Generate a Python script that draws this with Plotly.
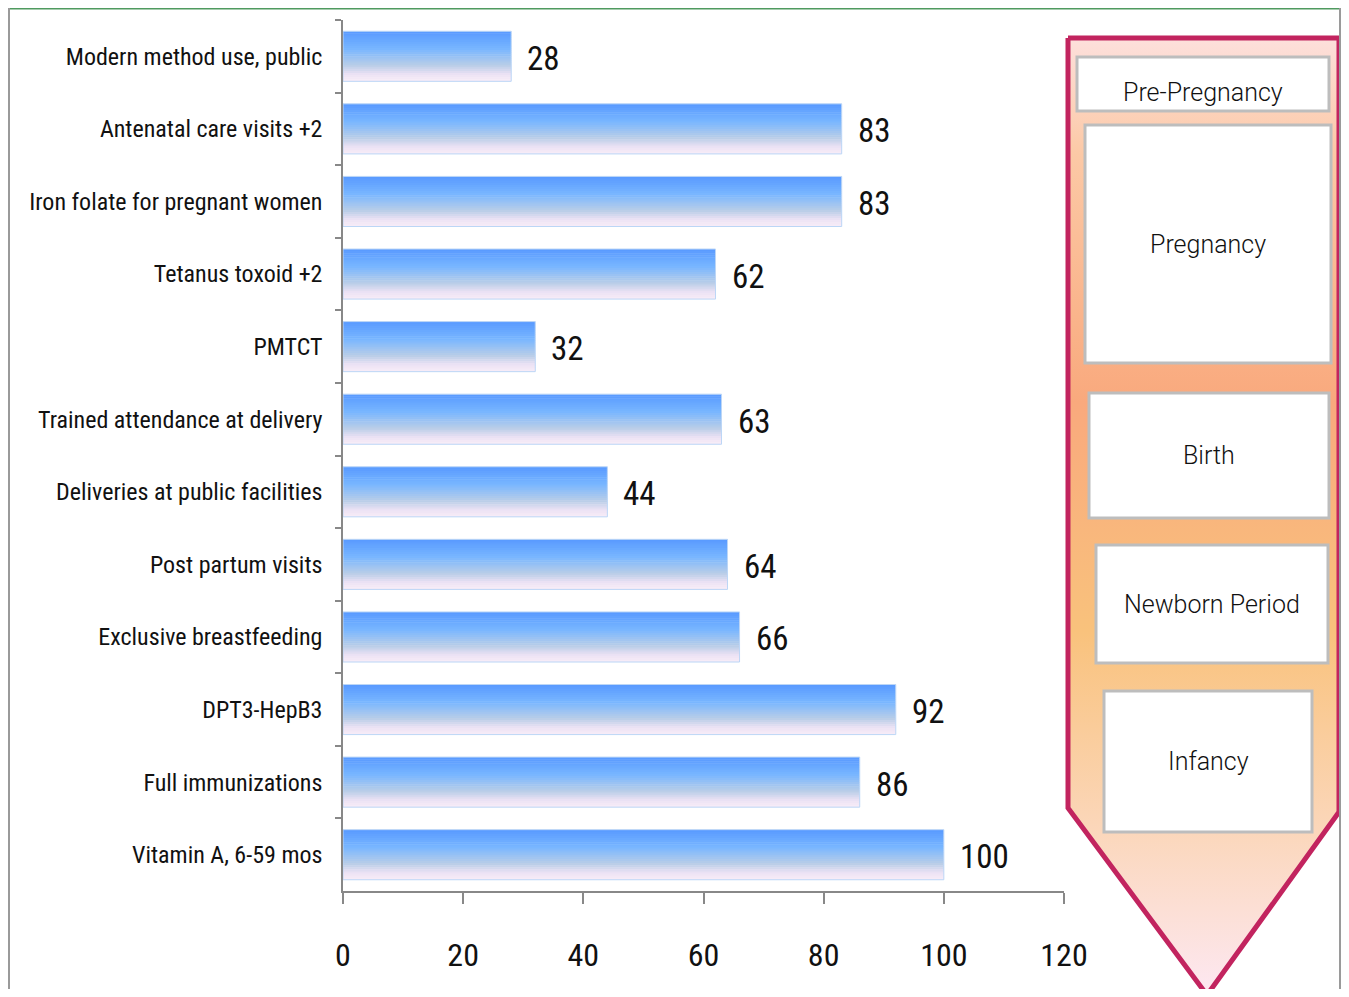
import plotly.graph_objects as go

# ---------------- data ----------------
categories = [
    "Modern method use, public",
    "Antenatal care visits +2",
    "Iron folate for pregnant women",
    "Tetanus toxoid +2",
    "PMTCT",
    "Trained attendance at delivery",
    "Deliveries at public facilities",
    "Post partum visits",
    "Exclusive breastfeeding",
    "DPT3-HepB3",
    "Full immunizations",
    "Vitamin A, 6-59 mos",
]
values = [28, 83, 83, 62, 32, 63, 44, 64, 66, 92, 86, 100]
x_ticks = [0, 20, 40, 60, 80, 100, 120]
stages = ["Pre-Pregnancy", "Pregnancy", "Birth", "Newborn Period", "Infancy"]

# ---------------- layout constants (pixels) ----------------
# figure sits inside the page body (8px default margin)
OFF = 8
W, H = 1349 - 2 * OFF, 997 - 2 * OFF
PX_L, PX_R = 343 - OFF, 1064 - OFF      # plot area x (figure px)
PY_T, PY_B = 20 - OFF, 891 - OFF        # plot area y (figure px)

LABEL_FONT = "Liberation Sans Narrow, Roboto Condensed, DejaVu Sans Condensed, Liberation Sans, sans-serif"
STAGE_FONT = "Roboto, Noto Sans, DejaVu Sans, sans-serif"

grad_stops = [(0.0, (88, 153, 255)), (0.35, (120, 182, 255)), (0.68, (185, 205, 232)),
              (0.86, (236, 226, 244)), (1.0, (248, 236, 248))]


def interp(t):
    for (t0, c0), (t1, c1) in zip(grad_stops[:-1], grad_stops[1:]):
        if t0 <= t <= t1:
            f = (t - t0) / (t1 - t0) if t1 > t0 else 0
            return "rgb(%d,%d,%d)" % tuple(round(a + (b - a) * f) for a, b in zip(c0, c1))
    return "rgb(%d,%d,%d)" % grad_stops[-1][1]


def P(x, y):
    """reference page pixel -> figure pixel"""
    return x - OFF, y - OFF


fig = go.Figure()

BW = 0.69
N = 24
step = BW / N
for k in range(N):
    t = (k + 0.5) / N
    w = step * 1.25 if k < N - 1 else step
    fig.add_trace(go.Bar(
        y=categories, x=values, orientation="h",
        width=w, offset=-BW / 2 + k * step,
        marker=dict(color=interp(t), line=dict(width=0)),
        hoverinfo="skip", showlegend=False,
    ))
fig.add_trace(go.Bar(
    y=categories, x=values, orientation="h", width=BW, offset=-BW / 2,
    marker=dict(color="rgba(0,0,0,0)", line=dict(width=1, color="#bcd6f6")),
    hoverinfo="skip", showlegend=False,
))

annotations = []
for c, v in zip(categories, values):
    annotations.append(dict(x=v, y=c, xref="x", yref="y", text=str(v), showarrow=False,
                            xanchor="left", yanchor="middle", xshift=14, yshift=-2,
                            font=dict(family=LABEL_FONT, size=33, color="#111")))

# ---------------- arrow decoration on overlay axes ----------------
arrow_ref = [(1068, 38), (1339, 38), (1339, 812), (1207, 995), (1068, 808), (1068, 38)]
arrow_x = [P(*p)[0] for p in arrow_ref]
arrow_y = [P(*p)[1] for p in arrow_ref]
fig.add_trace(go.Scatter(
    x=arrow_x, y=arrow_y, xaxis="x2", yaxis="y2", mode="lines", fill="toself",
    line=dict(color="#c2245f", width=5),
    fillgradient=dict(type="vertical", start=min(arrow_y), stop=max(arrow_y),
                      colorscale=[[0.0, "#fde0dc"], [0.12, "#fcc9a6"], [0.38, "#f9a97d"],
                                  [0.62, "#f9c27c"], [0.82, "#fbd6b8"], [1.0, "#fde8f2"]]),
    hoverinfo="skip", showlegend=False,
))

boxes_ref = [(1077, 57, 1329, 111), (1085, 125, 1331, 363), (1089, 393, 1329, 518),
             (1096, 545, 1328, 663), (1104, 691, 1312, 832)]
shapes = []
for (x0, y0, x1, y1), name in zip(boxes_ref, stages):
    x0, y0 = P(x0, y0)
    x1, y1 = P(x1, y1)
    shapes.append(dict(type="rect", xref="x2", yref="y2", x0=x0, y0=y0, x1=x1, y1=y1,
                       fillcolor="white", line=dict(color="#bdbdbd", width=3), layer="above"))
    annotations.append(dict(x=(x0 + x1) / 2, y=(y0 + y1) / 2 + (8 if name == "Pre-Pregnancy" else 0),
                            xref="x2", yref="y2", text=name,
                            showarrow=False, font=dict(family=STAGE_FONT, size=25, color="#111", weight=300)))

# page frame
shapes += [
    dict(type="line", xref="x2", yref="y2", x0=0, y0=0.5, x1=W, y1=0.5, line=dict(color="#4f9a5f", width=2)),
    dict(type="line", xref="x2", yref="y2", x0=1, y0=0, x1=1, y1=H, line=dict(color="#9a9a9a", width=2)),
    dict(type="line", xref="x2", yref="y2", x0=W - 1, y0=0, x1=W - 1, y1=H,
         line=dict(color="#9a9a9a", width=2)),
]

fig.update_layout(
    width=W, height=H, autosize=False,
    margin=dict(l=0, r=0, t=0, b=0, autoexpand=False),
    paper_bgcolor="white", plot_bgcolor="rgba(0,0,0,0)",
    barmode="overlay", showlegend=False,
    annotations=annotations, shapes=shapes,
    xaxis=dict(domain=[PX_L / W, PX_R / W], range=[0, 120], tickvals=x_ticks, automargin=False,
               showgrid=False, zeroline=False, showline=True, linecolor="#888", linewidth=1.5,
               ticks="outside", ticklen=11, tickcolor="#888", tickwidth=1.5,
               ticklabelstandoff=24,
               tickfont=dict(family=LABEL_FONT, size=32, color="#111"), fixedrange=True),
    yaxis=dict(domain=[1 - PY_B / H, 1 - PY_T / H], type="category", automargin=False,
               categoryorder="array", categoryarray=categories, autorange="reversed",
               tickson="boundaries", ticks="outside", ticklen=6, tickcolor="#888", tickwidth=1.5,
               showgrid=False, zeroline=False, showline=True, linecolor="#888", linewidth=1.5,
               ticklabelstandoff=14,
               tickfont=dict(family=LABEL_FONT, size=24, color="#111"), fixedrange=True),
    xaxis2=dict(domain=[0, 1], range=[0, W], visible=False, anchor="y2", fixedrange=True, automargin=False),
    yaxis2=dict(domain=[0, 1], range=[H, 0], visible=False, anchor="x2", fixedrange=True, automargin=False),
)

fig.write_html("out.html")
